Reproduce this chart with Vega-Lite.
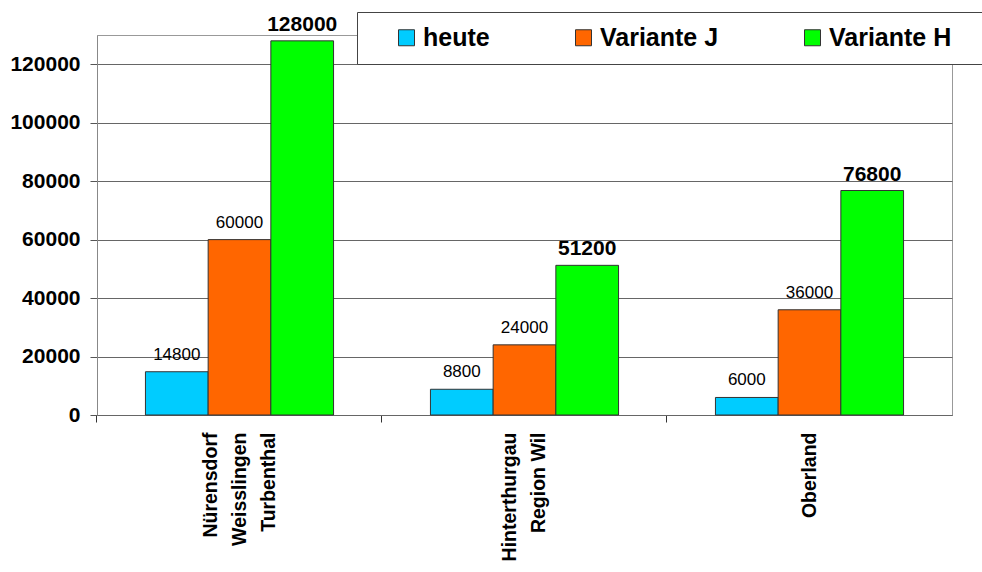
{
  "$schema": "https://vega.github.io/schema/vega-lite/v6.json",
  "width": 855,
  "height": 380,
  "autosize": "none",
  "padding": {"left": 97, "top": 35, "right": 30, "bottom": 157},
  "background": "white",
  "config": {
    "font": "Liberation Sans",
    "view": {"stroke": "#999999", "strokeWidth": 1}
  },
  "data": {
    "values": [
      {"region": "Nürensdorf\nWeisslingen\nTurbenthal", "series": "heute", "value": 14800},
      {"region": "Nürensdorf\nWeisslingen\nTurbenthal", "series": "Variante J", "value": 60000},
      {"region": "Nürensdorf\nWeisslingen\nTurbenthal", "series": "Variante H", "value": 128000},
      {"region": "Hinterthurgau\nRegion Wil", "series": "heute", "value": 8800},
      {"region": "Hinterthurgau\nRegion Wil", "series": "Variante J", "value": 24000},
      {"region": "Hinterthurgau\nRegion Wil", "series": "Variante H", "value": 51200},
      {"region": "Oberland", "series": "heute", "value": 6000},
      {"region": "Oberland", "series": "Variante J", "value": 36000},
      {"region": "Oberland", "series": "Variante H", "value": 76800}
    ]
  },
  "encoding": {
    "x": {
      "field": "region",
      "type": "nominal",
      "sort": null,
      "scale": {"paddingInner": 0.34, "paddingOuter": 0.17},
      "axis": {
        "title": null,
        "labelAngle": -90,
        "labelFontSize": 19.5,
        "labelFontWeight": "bold",
        "labelColor": "black",
        "labelLineHeight": 29,
        "labelPadding": 10,
        "labelLimit": 0,
        "labelExpr": "split(datum.label, '\\n')",
        "labelOffset": {
          "condition": [
            {"test": "indexof(datum.value, 'Turbenthal') >= 0", "value": -29},
            {"test": "indexof(datum.value, 'Region') >= 0", "value": -14.5}
          ],
          "value": 0
        },
        "tickSize": 7,
        "tickColor": "#333333",
        "bandPosition": -0.2576,
        "domainColor": "#666666"
      }
    },
    "xOffset": {
      "field": "series",
      "type": "nominal",
      "sort": ["heute", "Variante J", "Variante H"],
      "scale": {"paddingInner": 0, "paddingOuter": 0}
    },
    "y": {
      "field": "value",
      "type": "quantitative",
      "scale": {"domain": [0, 130000], "nice": false},
      "axis": {
        "title": null,
        "values": [0, 20000, 40000, 60000, 80000, 100000, 120000],
        "format": "d",
        "labelFontSize": 21,
        "labelFontWeight": "bold",
        "labelColor": "black",
        "labelPadding": 10,
        "tickSize": 7,
        "tickColor": "#555555",
        "domainColor": "#888888",
        "gridColor": "#666666",
        "gridOpacity": 1
      }
    }
  },
  "layer": [
    {
      "mark": {"type": "bar", "stroke": "#333333", "strokeWidth": 1},
      "encoding": {
        "color": {
          "field": "series",
          "type": "nominal",
          "sort": ["heute", "Variante J", "Variante H"],
          "scale": {"domain": ["heute", "Variante J", "Variante H"], "range": ["#00CCFF", "#FF6600", "#00FF00"]},
          "legend": {
            "orient": "none",
            "legendX": 260,
            "legendY": -23,
            "direction": "horizontal",
            "fillColor": "white",
            "strokeColor": "#444444",
            "padding": 13,
            "symbolType": "square",
            "symbolSize": 256,
            "symbolStrokeColor": "#333333",
            "symbolStrokeWidth": 1,
            "symbolOpacity": 1,
            "labelFontSize": 25,
            "labelFontWeight": "bold",
            "labelColor": "black",
            "labelOffset": 4,
            "labelLimit": 0,
            "columnPadding": 81,
            "title": "\u00a0",
            "titleOrient": "left",
            "titleFontSize": 10,
            "titlePadding": 24,
            "labelExpr": "datum.label == 'Variante H' ? datum.label + '\u00a0\u00a0\u00a0\u00a0\u00a0\u00a0\u200b' : datum.label"
          }
        }
      }
    },
    {
      "transform": [{"filter": "datum.series != 'Variante H'"}],
      "mark": {"type": "text", "fontSize": 17, "baseline": "alphabetic", "dy": -12, "color": "black"},
      "encoding": {"text": {"field": "value", "type": "quantitative", "format": "d"}}
    },
    {
      "transform": [{"filter": "datum.series == 'Variante H'"}],
      "mark": {"type": "text", "fontSize": 21, "fontWeight": "bold", "baseline": "alphabetic", "dy": -10, "color": "black"},
      "encoding": {"text": {"field": "value", "type": "quantitative", "format": "d"}}
    }
  ]
}
